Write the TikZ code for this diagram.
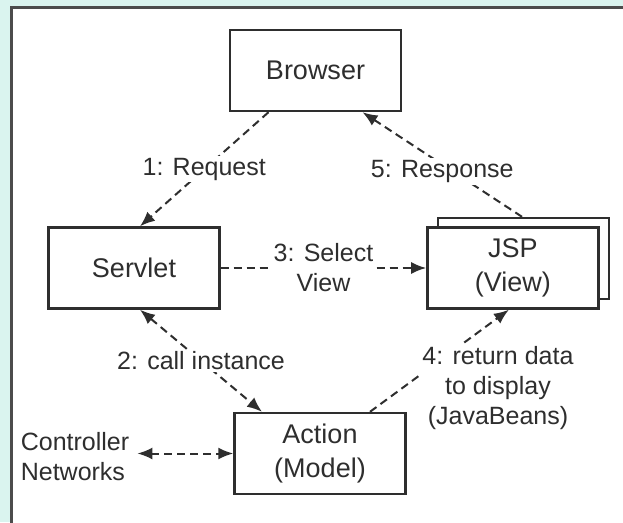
\documentclass[tikz,border=0pt]{standalone}
\usepackage{fontspec}
\setmainfont{Liberation Sans}
\usetikzlibrary{positioning,arrows.meta}
\definecolor{panelcyan}{HTML}{DAF4EF}
\definecolor{inkgray}{HTML}{2E2E2E}

\begin{document}
\begin{tikzpicture}[
    x=1pt, y=-1pt,
    >={Latex[length=15pt,width=12pt]},
    box/.style={
        rectangle,
        draw=inkgray,
        fill=white,
        line width=2.4pt,
        align=center,
        minimum width=171pt,
        minimum height=81pt,
        text=inkgray,
        font=\fontsize{27}{34}\selectfont
    },
    lbl/.style={
        fill=white,
        inner sep=2pt,
        align=center,
        text=inkgray,
        font=\fontsize{25}{30}\selectfont
    },
    link/.style={
        ->,
        draw=inkgray,
        line width=2pt,
        dash pattern=on 8pt off 5pt
    }
]

% frame
\useasboundingbox (0,0) rectangle (623,522);
\clip (0,0) rectangle (623,522);
\fill[panelcyan] (0,0) rectangle (623,522);
\filldraw[fill=white, draw=black!70, line width=3pt] (11,7) rectangle (660,560);

\node[box] (browser) at (315.5,70.5)
{Browser};

\node[box] (servlet) at (134,268)
{Servlet};

\node[box] (jspback) at (523.5,258.5) {};

\node[box, right=205.5pt of servlet] (jsp)
{JSP\\(View)};

\node[box] (action) at (320,453.5)
{Action\\(Model)};

\node[lbl, align=left, fill=none] (ctrl) at (75,457)
{Controller\\Networks};

\draw[link] ([xshift=-47pt]browser.south) -- node[lbl] (lblrequest) {1: Request} ([xshift=6pt]servlet.north);
\draw[link] ([xshift=-1.5pt]jspback.north) -- node[lbl, yshift=-7pt] (lblresponse) {5: Response} ([xshift=47pt]browser.south);
\draw[link] (servlet) -- node[lbl] (lblselect) {3: Select\\View} (jsp);
\draw[link, <->] ([xshift=6pt]servlet.south) -- node[lbl] (lblcall) {2: call instance} ([xshift=-58pt]action.north);
\draw[link] ([xshift=50pt]action.north) -- ([xshift=-4pt]jsp.south);
\node[lbl] (lblreturn) at (498,388)
{4: return data\\to display\\(JavaBeans)};
\draw[link, <->] ([xshift=6pt]ctrl.east |- action.west) -- (action.west);

\end{tikzpicture}
\end{document}
